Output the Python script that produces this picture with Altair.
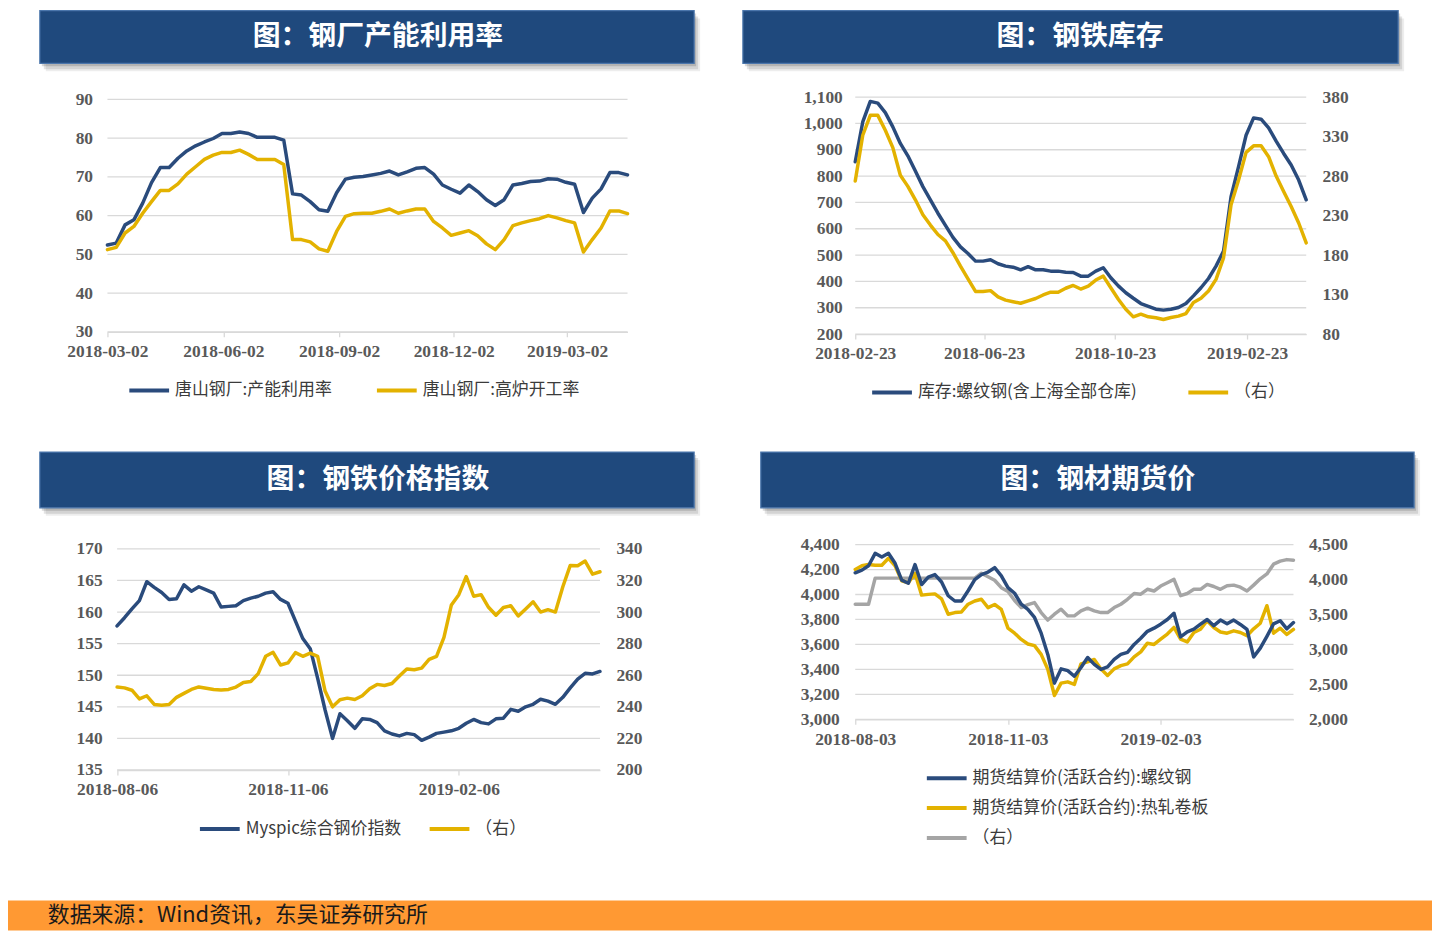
import altair as alt
import pandas as pd

W, H = 1432, 925
BLUE = "#2A4B7C"
GOLD = "#E3B200"
GRAY = "#A5A5A5"
GRID = "#D9D9D9"
LABEL = "#595959"
NUM_FONT = "Liberation Serif"
CJK = "Noto Sans CJK SC"

# ---------------- data ----------------
# Panel 1: 唐山钢厂 (weekly from 2018-03-02)
p1_start = "2018-03-02"
p1_util = [52.4, 52.9, 57.6, 58.9, 63.2, 68.5, 72.4, 72.4, 74.8, 76.7,
           78.0, 79.0, 79.9, 81.2, 81.2, 81.6, 81.2, 80.2, 80.2, 80.2,
           79.5, 65.6, 65.3, 63.6, 61.5, 61.1, 65.9, 69.4, 69.9, 70.1,
           70.5, 70.9, 71.5, 70.5, 71.3, 72.2, 72.4, 70.7, 67.9, 66.8,
           65.8, 67.9, 66.2, 64.1, 62.6, 64.1, 67.9, 68.3, 68.8, 68.9,
           69.5, 69.4, 68.6, 68.1, 60.8, 64.5, 66.9, 71.1, 71.1, 70.5]
p1_bf = [51.2, 51.8, 55.5, 57.2, 60.6, 63.6, 66.5, 66.5, 68.2, 70.7,
         72.6, 74.5, 75.6, 76.3, 76.3, 76.9, 75.8, 74.5, 74.5, 74.5,
         73.2, 53.8, 53.8, 53.2, 51.4, 50.8, 55.9, 59.8, 60.5, 60.6,
         60.6, 61.1, 61.7, 60.6, 61.2, 61.7, 61.7, 58.5, 56.8, 54.9,
         55.5, 56.1, 54.8, 52.7, 51.2, 53.8, 57.4, 58.1, 58.7, 59.2,
         60.0, 59.4, 58.7, 58.1, 50.6, 53.8, 56.8, 61.2, 61.2, 60.5]
p1_names = ["唐山钢厂:产能利用率", "唐山钢厂:高炉开工率"]
p1_xticks = ["2018-03-02", "2018-06-02", "2018-09-02", "2018-12-02", "2019-03-02"]
p1_yticks = [30, 40, 50, 60, 70, 80, 90]

# Panel 2: 钢铁库存 (weekly from 2018-02-23)
p2_start = "2018-02-23"
p2_inv = [854.6, 1005.6, 1083.6, 1077, 1041, 987, 924, 877, 819, 760,
          710, 659, 613, 567, 531, 506, 477, 477, 482, 467,
          458, 454, 444, 456, 444, 444, 439, 439, 435, 434,
          420, 420, 439, 452, 414, 383, 357, 336, 316, 305,
          294.5, 291, 294.5, 301, 316, 345, 376, 411, 458, 515,
          722, 836, 955, 1021, 1016, 983, 933, 886, 842, 785, 710]
p2_right = [273.8, 331.7, 356.9, 356.9, 338, 316, 281, 267, 250, 231,
            218, 206, 198, 183, 166, 150, 134, 134, 135, 127,
            123, 121, 119, 122, 125, 129.5, 133, 133, 138, 141.5,
            137, 140.8, 148.4, 153.4, 138.7, 124, 111.5, 101.8, 105.2, 101.8,
            100.6, 98.5, 101, 102.7, 106, 120, 125.3, 134.5, 149.2, 176.5,
            243.6, 275, 310, 318.3, 318.3, 304.5, 280.1, 260.4, 241.5, 220.6, 195.4]
p2_names = ["库存:螺纹钢(含上海全部仓库)", "（右）"]
p2_xticks = ["2018-02-23", "2018-06-23", "2018-10-23", "2019-02-23"]
p2_lticks = [200, 300, 400, 500, 600, 700, 800, 900, 1000, 1100]
p2_rticks = [80, 130, 180, 230, 280, 330, 380]

# Panel 3: 钢铁价格指数 (every 4 days from 2018-08-06)
p3_start = "2018-08-06"
p3_idx = [157.8, 159.1, 160.5, 161.8, 164.8, 163.9, 163.1, 162.0, 162.1, 164.3,
          163.3, 164.0, 163.5, 163.0, 160.8, 160.9, 161.0, 161.8, 162.2, 162.5,
          163.0, 163.2, 162.0, 161.4, 158.6, 155.8, 154.2, 149.5, 144.5, 140.0,
          143.9, 142.8, 141.6, 143.1, 143.0, 142.5, 141.2, 140.7, 140.4, 140.8,
          140.6, 139.7, 140.2, 140.8, 141.0, 141.2, 141.6, 142.4, 143.0, 142.5,
          142.3, 143.1, 143.2, 144.6, 144.3, 145.0, 145.4, 146.2, 145.9, 145.4,
          146.5, 148.0, 149.4, 150.3, 150.2, 150.6]
p3_right = [252.5, 252.0, 250.5, 245.0, 247.0, 241.5, 241.0, 241.5, 246.0, 248.5,
            251.0, 252.6, 251.8, 251.0, 250.6, 251.0, 252.5, 255.4, 256.0, 261.0,
            272.0, 274.5, 266.5, 267.8, 274.3, 272.0, 274.0, 272.0, 250.0, 240.0,
            244.5, 245.5, 244.6, 247.0, 251.4, 254.2, 253.5, 254.8, 259.5, 264.0,
            263.5, 264.5, 270.0, 272.0, 284.0, 304.5, 311.0, 322.5, 310.0, 311.0,
            303.0, 298.0, 302.9, 304.0, 297.5, 302.0, 306.5, 300.0, 301.5, 300.0,
            316.0, 329.5, 329.3, 332.3, 324.0, 325.5]
p3_names = ["Myspic综合钢价指数", "（右）"]
p3_xticks = ["2018-08-06", "2018-11-06", "2019-02-06"]
p3_lticks = [135, 140, 145, 150, 155, 160, 165, 170]
p3_rticks = [200, 220, 240, 260, 280, 300, 320, 340]

# Panel 4: 钢材期货价 (every 4 days from 2018-08-03)
p4_start = "2018-08-03"
p4_rebar = [4174, 4195, 4230, 4330, 4300, 4330, 4250, 4115, 4090, 4240,
            4080, 4140, 4160, 4100, 3990, 3948, 3948, 4030, 4120, 4160,
            4180, 4215, 4150, 4055, 4010, 3922, 3880, 3816, 3690, 3520,
            3290, 3404, 3390, 3345, 3415, 3495, 3440, 3400, 3420, 3480,
            3520, 3537, 3600, 3650, 3705, 3730, 3762, 3800, 3850, 3660,
            3700, 3722, 3762, 3800, 3750, 3795, 3765, 3795, 3760, 3720,
            3500, 3570, 3665, 3765, 3790, 3725, 3775]
p4_hrc = [4201, 4230, 4240, 4235, 4235, 4290, 4230, 4110, 4094, 4170,
          3995, 4001, 4005, 3965, 3842, 3855, 3860, 3922, 3948, 3962,
          3895, 3920, 3880, 3730, 3690, 3640, 3603, 3590, 3520, 3400,
          3191, 3290, 3300, 3280, 3444, 3460, 3480, 3404, 3351, 3404,
          3430, 3444, 3500, 3540, 3610, 3600, 3643, 3683, 3736, 3643,
          3620, 3696, 3722, 3790, 3736, 3700, 3690, 3709, 3696, 3670,
          3725, 3770, 3910, 3690, 3730, 3680, 3720]
p4_right = [3646, 3646, 3646, 4020, 4020, 4020, 4020, 4020, 4020, 4020,
            4020, 4020, 4020, 4020, 4020, 4020, 4020, 4020, 4020, 4090,
            4040, 3990, 3883, 3830, 3700, 3599, 3640, 3670, 3527, 3420,
            3504, 3575, 3480, 3480, 3551, 3590, 3551, 3527, 3527, 3599,
            3646, 3717, 3800, 3790, 3860, 3836, 3907, 3954, 4002, 3770,
            3800, 3860, 3860, 3930, 3900, 3860, 3910, 3920, 3890, 3836,
            3920, 4010, 4080, 4220, 4263, 4285, 4277]
p4_names = ["期货结算价(活跃合约):螺纹钢", "期货结算价(活跃合约):热轧卷板", "（右）"]
p4_xticks = ["2018-08-03", "2018-11-03", "2019-02-03"]
p4_lticks = [3000, 3200, 3400, 3600, 3800, 4000, 4200, 4400]
p4_rticks = [2000, 2500, 3000, 3500, 4000, 4500]

titles = ["图：钢厂产能利用率", "图：钢铁库存", "图：钢铁价格指数", "图：钢材期货价"]
source = "数据来源：Wind资讯，东吴证券研究所"


# ---------------- helpers ----------------
def ms(d):
    return int(pd.Timestamp(d).value // 10**6)


def dates(start, n, step):
    s = pd.Timestamp(start)
    return [ms(s + pd.Timedelta(days=step * i)) for i in range(n)]


def xs(d0, d1, r0, r1):
    return alt.Scale(type="utc", domain=[ms(d0), ms(d1)], range=[r0, r1], nice=False)


def ys(lo, hi, r0, r1):
    return alt.Scale(domain=[lo, hi], range=[r0, r1], nice=False, zero=False)


def xaxis(ticks, ypix):
    return alt.Axis(orient="bottom", offset=ypix - H, values=[ms(t) for t in ticks],
                    labelExpr="utcFormat(datum.value, '%Y-%m-%d')",
                    labelFlush=False, labelOverlap=False, grid=False, title=None,
                    domain=True, domainColor=GRID, domainWidth=1.3,
                    ticks=True, tickColor=GRID, tickSize=5, tickWidth=1.3,
                    labelPadding=6, labelFont=NUM_FONT, labelFontWeight="bold",
                    labelFontSize=17.5, labelColor=LABEL)


def yaxis(ticks, orient, xpix, pad, fmt):
    off = -xpix if orient == "left" else xpix - W
    return alt.Axis(orient=orient, offset=off, values=ticks, format=fmt,
                    grid=False, title=None, domain=False, ticks=False, tickSize=0,
                    labelPadding=pad, labelFlush=False, labelOverlap=False,
                    labelFont=NUM_FONT, labelFontWeight="bold",
                    labelFontSize=17.5, labelColor=LABEL)


def leg(x, y):
    return alt.Legend(orient="none", legendX=x, legendY=y, title=None,
                      symbolType="stroke", symbolSize=1600, symbolStrokeWidth=4,
                      labelFont=CJK, labelFontSize=17, labelColor="#3B3B3B",
                      labelOffset=4, padding=0, labelLimit=500)


def line(t, v, name, color, xsc, ysc, xax=None, yax=None, legend=None):
    df = pd.DataFrame({"t": t, "v": v, "s": name})
    return alt.Chart(df).mark_line(strokeWidth=3.5, strokeJoin="round", strokeCap="round").encode(
        x=alt.X("t:T", scale=xsc, axis=xax),
        y=alt.Y("v:Q", scale=ysc, axis=yax),
        color=alt.Color("s:N", scale=alt.Scale(domain=[name], range=[color]), legend=legend),
    )


def grid(ticks, d0, d1, xsc, ysc):
    df = pd.DataFrame({"v": ticks, "t0": ms(d0), "t1": ms(d1)})
    return alt.Chart(df).mark_rule(color=GRID, strokeWidth=1.3).encode(
        x=alt.X("t0:T", scale=xsc, axis=None), x2="t1:T",
        y=alt.Y("v:Q", scale=ysc, axis=None))


one = pd.DataFrame({"a": [0]})


def banner(x0, x1, y0, y1, title, tx):
    base = alt.Chart(one)
    layers = []
    for dx, dy, op in [(6, 8, 0.07), (4, 6, 0.11), (2, 3, 0.15)]:
        layers.append(base.mark_rect(color="#000000", opacity=op).encode(
            x=alt.value(x0 + dx), x2=alt.value(x1 + dx), y=alt.value(y0 + dy), y2=alt.value(y1 + dy)))
    layers.append(base.mark_rect(color="#1F497D", stroke="#4B76AC", strokeWidth=1.2).encode(
        x=alt.value(x0), x2=alt.value(x1), y=alt.value(y0), y2=alt.value(y1)))
    layers.append(base.mark_text(text=title, font=CJK, fontSize=28, fontWeight="bold",
                                 color="white", align="center", baseline="middle").encode(
        x=alt.value(tx), y=alt.value((y0 + y1) / 2)))
    return layers


layers = []
layers += banner(32, 690, 0, 53, titles[0], 372)
layers += banner(739, 1398, 0, 53, titles[1], 1078)
layers += banner(32, 690, 444, 500, titles[2], 372)
layers += banner(757, 1414, 444, 500, titles[3], 1096)

# footer
layers.append(alt.Chart(one).mark_rect(color="#FF9933").encode(
    x=alt.value(0), x2=alt.value(W), y=alt.value(895), y2=alt.value(H)))
layers.append(alt.Chart(one).mark_text(text=source, font=CJK, fontSize=22, color="#1A1A1A",
                                       align="left", baseline="middle").encode(
    x=alt.value(40), y=alt.value(910)))

# ---- Panel 1 ----
t1 = dates(p1_start, len(p1_util), 7)
x1s = xs("2018-03-02", "2019-04-19", 100, 623)
y1s = ys(30, 90, 323, 89.3)
layers.append(grid(p1_yticks, "2018-03-02", "2019-04-19", x1s, y1s))
layers.append(line(t1, p1_util, p1_names[0], BLUE, x1s, y1s,
                   xax=xaxis(p1_xticks, 323), yax=yaxis(p1_yticks, "left", 100, 15, "d"),
                   legend=leg(120, 360)))
layers.append(line(t1, p1_bf, p1_names[1], GOLD, x1s, y1s, legend=leg(369, 360)))

# ---- Panel 2 ----
t2 = dates(p2_start, len(p2_inv), 7)
x2s = xs("2018-02-23", "2019-04-19", 852, 1305.5)
y2l = ys(200, 1100, 325.3, 87)
y2r = ys(80, 380, 325.3, 87)
layers.append(grid(p2_lticks, "2018-02-23", "2019-04-19", x2s, y2l))
layers.append(line(t2, p2_inv, p2_names[0], BLUE, x2s, y2l,
                   xax=xaxis(p2_xticks, 325.3), yax=yaxis(p2_lticks, "left", 852, 13, ",.0f"),
                   legend=leg(867, 362)))
layers.append(line(t2, p2_right, p2_names[1], GOLD, x2s, y2r,
                   yax=yaxis(p2_rticks, "right", 1305.5, 16, "d"),
                   legend=leg(1185, 362)))

# ---- Panel 3 ----
t3 = dates(p3_start, len(p3_idx), 4)
x3s = xs("2018-08-06", "2019-04-23", 109.7, 595.3)
y3l = ys(135, 170, 763.7, 541.3)
y3r = ys(200, 340, 763.7, 541.3)
layers.append(grid(p3_lticks, "2018-08-06", "2019-04-23", x3s, y3l))
layers.append(line(t3, p3_idx, p3_names[0], BLUE, x3s, y3l,
                   xax=xaxis(p3_xticks, 763.7), yax=yaxis(p3_lticks, "left", 109.7, 15, "d"),
                   legend=leg(191, 801)))
layers.append(line(t3, p3_right, p3_names[1], GOLD, x3s, y3r,
                   yax=yaxis(p3_rticks, "right", 595.3, 16, "d"),
                   legend=leg(422, 801)))

# ---- Panel 4 ----
t4 = dates(p4_start, len(p4_rebar), 4)
x4s = xs("2018-08-03", "2019-04-24", 852, 1292.7)
y4l = ys(3000, 4400, 712.7, 537)
y4r = ys(2000, 4500, 712.7, 537)
layers.append(grid(p4_lticks, "2018-08-03", "2019-04-24", x4s, y4l))
layers.append(line(t4, p4_right, p4_names[2], GRAY, x4s, y4r,
                   yax=yaxis(p4_rticks, "right", 1292.7, 15, ",.0f"),
                   legend=leg(922, 810)))
layers.append(line(t4, p4_hrc, p4_names[1], GOLD, x4s, y4l, legend=leg(922, 780)))
layers.append(line(t4, p4_rebar, p4_names[0], BLUE, x4s, y4l,
                   xax=xaxis(p4_xticks, 712.7), yax=yaxis(p4_lticks, "left", 852, 16, ",.0f"),
                   legend=leg(922, 750)))

chart = alt.layer(*layers).resolve_scale(
    x="independent", y="independent", color="independent"
).resolve_axis(x="independent", y="independent").resolve_legend(color="independent").properties(
    width=W, height=H, padding=0, autosize=alt.AutoSizeParams(type="none"), background="white"
).configure_view(stroke=None)

chart.save("out.html", embed_options={"renderer": "svg", "actions": False})
